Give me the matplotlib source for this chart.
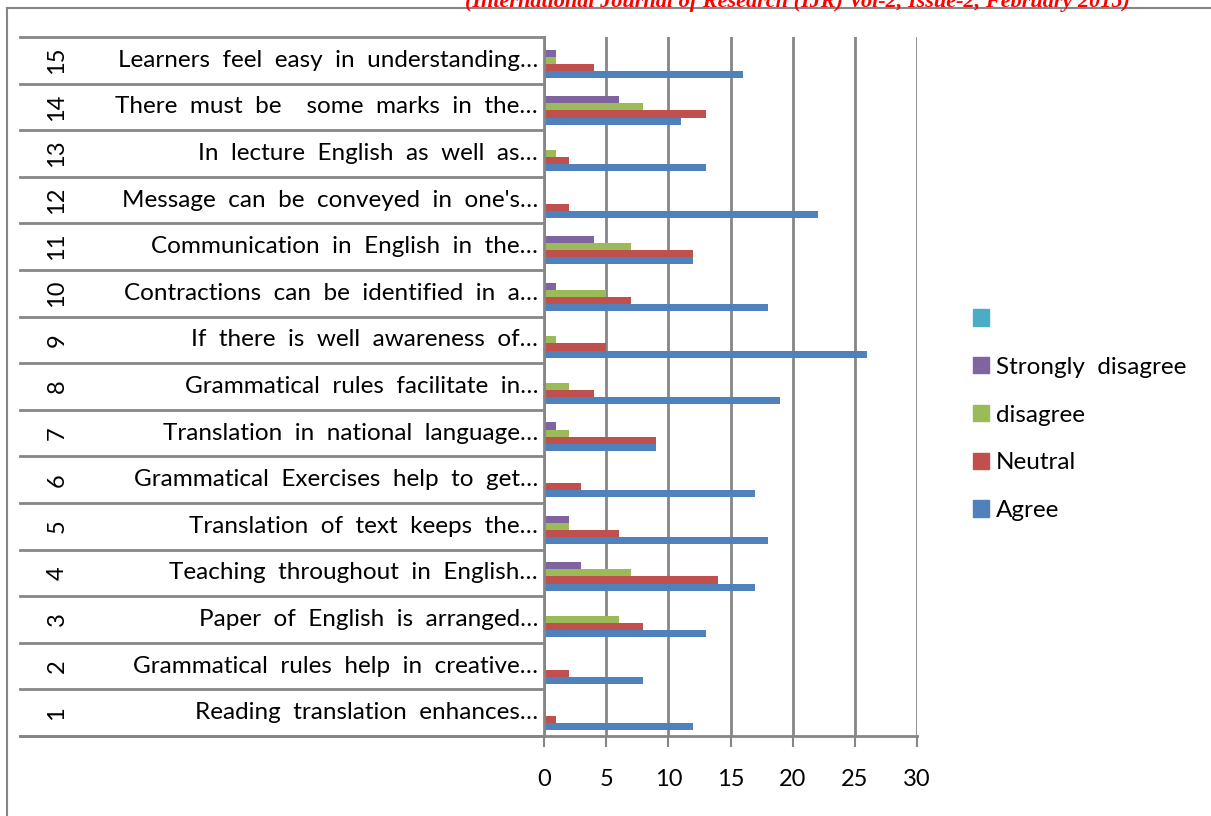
import matplotlib.pyplot as plt
import numpy as np
from matplotlib.lines import Line2D
from matplotlib.patches import Patch
from matplotlib.transforms import blended_transform_factory

plt.rcParams['font.family'] = ['Lato', 'DejaVu Sans']

# survey items, bottom (1) to top (15)
items = [
    "Reading translation enhances…",
    "Grammatical rules help in creative…",
    "Paper of English is arranged…",
    "Teaching throughout in English…",
    "Translation of text keeps the…",
    "Grammatical Exercises help to get…",
    "Translation in national language…",
    "Grammatical rules facilitate in…",
    "If there is well awareness of…",
    "Contractions can be identified in a…",
    "Communication in English in the…",
    "Message can be conveyed in one's…",
    "In lecture English as well as…",
    "There must be  some marks in the…",
    "Learners feel easy in understanding…",
]
item_no = [str(i) for i in range(1, 16)]

agree = [12, 8, 13, 17, 18, 17, 9, 19, 26, 18, 12, 22, 13, 11, 16]
neutral = [1, 2, 8, 14, 6, 3, 9, 4, 5, 7, 12, 2, 2, 13, 4]
disagree = [0, 0, 6, 7, 2, 0, 2, 2, 1, 5, 7, 0, 1, 8, 1]
strongly_disagree = [0, 0, 0, 3, 2, 0, 1, 0, 0, 1, 4, 0, 0, 6, 1]
blank = [0] * 15

series = [("Agree", agree, "#4F81BD"),
          ("Neutral", neutral, "#C0504D"),
          ("disagree", disagree, "#9BBB59"),
          ("Strongly  disagree", strongly_disagree, "#8064A2"),
          ("", blank, "#4BACC6")]

W, H = 1211, 816
fig = plt.figure(figsize=(W / 100, H / 100), dpi=100)
ax = fig.add_axes([544 / W, 1 - 736 / H, (917 - 544) / W, (736 - 37) / H])

y = np.arange(15)
bh = 0.152
for k, (name, vals, col) in enumerate(series):
    ax.barh(y + (k - 2) * bh, vals, height=bh, color=col, edgecolor='none')

ax.set_xlim(0, 30)
ax.set_ylim(-0.5, 14.5)
ax.set_xticks(range(0, 31, 5))
ax.set_yticks([])
ax.grid(axis='x', color='#868686', linewidth=2)
ax.set_axisbelow(True)
for s in ['top', 'right']:
    ax.spines[s].set_visible(False)
ax.spines['left'].set_color('#868686')
ax.spines['left'].set_linewidth(2)
ax.spines['bottom'].set_visible(False)
ax.tick_params(axis='x', length=8, width=1.5, color='#868686', pad=16,
               labelsize=17)

# category table on the left
tr = blended_transform_factory(ax.transAxes, ax.transData)
x_left = (20 - 544) / (917 - 544)
for b in np.arange(-0.5, 15, 1.0):
    ax.plot([x_left, 0], [b, b], color='#868686', lw=2, transform=tr,
            clip_on=False)
ax.plot([x_left, 1], [-0.5, -0.5], color='#868686', lw=2, transform=tr,
        clip_on=False)
x_num = (57 - 544) / (917 - 544)
for i in range(15):
    ax.text(-0.016, i, items[i].replace(" ", "  "), ha='right', va='center',
            fontsize=17.5, transform=tr)
    ax.text(x_num, i, item_no[i], ha='center', va='center', fontsize=17,
            rotation=90, transform=tr)

# legend (teal blank entry on top)
handles = [Patch(color=col, label=name) for name, vals, col in series][::-1]
leg = fig.legend(handles=handles, loc='center left',
                 bbox_to_anchor=(951 / W, 1 - 415 / H), frameon=False,
                 fontsize=17.5, handlelength=0.65, handleheight=0.65,
                 handletextpad=0.3, labelspacing=1.1)

# outer chart frame
fig.add_artist(Line2D([7 / W, 7 / W], [0, 1 - 8 / H], color='#868686', lw=1.5))
fig.add_artist(Line2D([7 / W, 1], [1 - 8 / H, 1 - 8 / H], color='#868686', lw=1.5))

# header text of the page, mostly cut off at the top
fig.text(465 / W, 1 - 2 / H, "(International Journal of Research (IJR) Vol-2, Issue-2, February 2015)",
         color='red', fontsize=16, fontweight='bold', fontstyle='italic',
         family='Liberation Serif', va='center')

fig.savefig('out.png', dpi=100)
